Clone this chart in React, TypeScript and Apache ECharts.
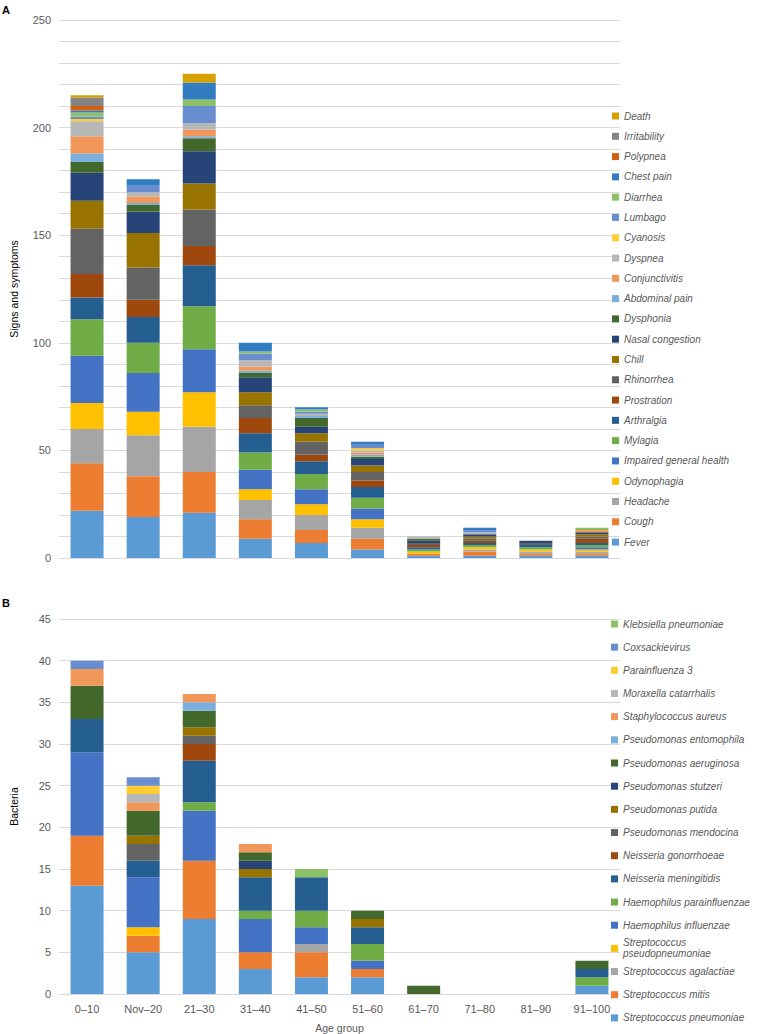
import React, { useEffect, useRef } from "react";
import * as echarts from "echarts";

const categories = ["0–10", "Nov–20", "21–30", "31–40", "41–50", "51–60", "61–70", "71–80", "81–90", "91–100"];

// Panel A: signs and symptoms (stack order bottom -> top)
const fever = [22, 19, 21, 9, 7, 4, 1, 1, 1, 1];
const cough = [22, 19, 19, 9, 6, 5, 1, 2, 1, 1];
const headache = [16, 19, 21, 9, 7, 5, 0, 1, 1, 1];
const odynophagia = [12, 11, 16, 5, 5, 4, 1, 1, 1, 1];
const impairedHealth = [22, 18, 20, 9, 7, 5, 0, 0, 0, 1];
const mylagia = [17, 14, 20, 8, 7, 5, 1, 1, 1, 1];
const arthralgia = [10, 12, 19, 9, 6, 5, 1, 1, 1, 1];
const prostration = [11, 8, 9, 7, 3, 3, 1, 1, 0, 2];
const rhinorrhea = [21, 15, 17, 6, 6, 4, 1, 1, 1, 1];
const chill = [13, 16, 12, 6, 4, 3, 0, 1, 0, 1];
const nasalCongestion = [13, 10, 15, 7, 3, 3, 1, 1, 1, 1];
const dysphonia = [5, 3, 6, 2, 4, 1, 1, 0, 0, 0];
const abdominalPain = [4, 1, 1, 1, 1, 1, 0, 0, 0, 0];
const conjunctivitis = [8, 3, 3, 2, 0, 1, 0, 0, 0, 1];
const dyspnea = [7, 2, 3, 3, 1, 1, 1, 1, 0, 0];
const cyanosis = [1, 0, 0, 0, 0, 1, 0, 0, 0, 0];
const lumbago = [1, 3, 8, 3, 1, 2, 0, 1, 0, 0];
const diarrhea = [2, 0, 3, 1, 1, 0, 0, 0, 0, 1];
const chestPain = [1, 3, 8, 4, 1, 1, 0, 1, 0, 0];
const polypnea = [2, 0, 0, 0, 0, 0, 0, 0, 0, 0];
const irritability = [4, 0, 0, 0, 0, 0, 0, 0, 0, 0];
const death = [1, 0, 4, 0, 0, 0, 0, 0, 0, 0];

const symptomNames = ["Fever", "Cough", "Headache", "Odynophagia", "Impaired general health", "Mylagia", "Arthralgia", "Prostration", "Rhinorrhea", "Chill", "Nasal congestion", "Dysphonia", "Abdominal pain", "Conjunctivitis", "Dyspnea", "Cyanosis", "Lumbago", "Diarrhea", "Chest pain", "Polypnea", "Irritability", "Death"];
const symptomValues = [fever, cough, headache, odynophagia, impairedHealth, mylagia, arthralgia, prostration, rhinorrhea, chill, nasalCongestion, dysphonia, abdominalPain, conjunctivitis, dyspnea, cyanosis, lumbago, diarrhea, chestPain, polypnea, irritability, death];

// Panel B: bacteria (stack order bottom -> top)
const sPneumoniae = [13, 5, 9, 3, 2, 2, 0, 0, 0, 1];
const sMitis = [6, 2, 7, 2, 3, 1, 0, 0, 0, 0];
const sAgalactiae = [0, 0, 0, 0, 1, 0, 0, 0, 0, 0];
const sPseudopneumoniae = [0, 1, 0, 0, 0, 0, 0, 0, 0, 0];
const hInfluenzae = [10, 6, 6, 4, 2, 1, 0, 0, 0, 0];
const hParainfluenzae = [0, 0, 1, 1, 2, 2, 0, 0, 0, 1];
const nMeningitidis = [4, 2, 5, 4, 4, 2, 0, 0, 0, 1];
const nGonorrhoeae = [0, 0, 2, 0, 0, 0, 0, 0, 0, 0];
const pMendocina = [0, 2, 1, 0, 0, 0, 0, 0, 0, 0];
const pPutida = [0, 1, 1, 1, 0, 1, 0, 0, 0, 0];
const pStutzeri = [0, 0, 0, 1, 0, 0, 0, 0, 0, 0];
const pAeruginosa = [4, 3, 2, 1, 0, 1, 1, 0, 0, 1];
const pEntomophila = [0, 0, 1, 0, 0, 0, 0, 0, 0, 0];
const sAureus = [2, 1, 1, 1, 0, 0, 0, 0, 0, 0];
const mCatarrhalis = [0, 1, 0, 0, 0, 0, 0, 0, 0, 0];
const parainfluenza3 = [0, 1, 0, 0, 0, 0, 0, 0, 0, 0];
const coxsackievirus = [1, 1, 0, 0, 0, 0, 0, 0, 0, 0];
const kPneumoniae = [0, 0, 0, 0, 1, 0, 0, 0, 0, 0];

const bacteriaNames = ["Streptococcus pneumoniae", "Streptococcus mitis", "Streptococcus agalactiae", "Streptococcus pseudopneumoniae", "Haemophilus influenzae", "Haemophilus parainfluenzae", "Neisseria meningitidis", "Neisseria gonorrhoeae", "Pseudomonas mendocina", "Pseudomonas putida", "Pseudomonas stutzeri", "Pseudomonas aeruginosa", "Pseudomonas entomophila", "Staphylococcus aureus", "Moraxella catarrhalis", "Parainfluenza 3", "Coxsackievirus", "Klebsiella pneumoniae"];
const bacteriaValues = [sPneumoniae, sMitis, sAgalactiae, sPseudopneumoniae, hInfluenzae, hParainfluenzae, nMeningitidis, nGonorrhoeae, pMendocina, pPutida, pStutzeri, pAeruginosa, pEntomophila, sAureus, mCatarrhalis, parainfluenza3, coxsackievirus, kPneumoniae];

const palette = ["#5B9BD5", "#ED7D31", "#A5A5A5", "#FFC000", "#4472C4", "#70AD47", "#255E91", "#9E480E", "#636363", "#997300", "#264478", "#43682B", "#7CAFDD", "#F1975A", "#B7B7B7", "#FFCD33", "#698ED0", "#8CC168", "#327DC2", "#D26012", "#848484", "#D5A000"];

const FONT = "Liberation Sans, Arial, sans-serif";
const TXT = "#595959";
const GRIDC = "#d9d9d9";

export default function App() {
  const ref = useRef<HTMLDivElement>(null);
  useEffect(() => {
    if (!ref.current) return;
    const chart = echarts.init(ref.current, null, { renderer: "svg" });

    const series: any[] = [];
    symptomNames.forEach((n, i) => {
      series.push({ name: n, type: "bar", stack: "a", xAxisIndex: 0, yAxisIndex: 0, data: symptomValues[i], itemStyle: { color: palette[i] }, barWidth: 33 });
    });
    bacteriaNames.forEach((n, i) => {
      series.push({ name: n, type: "bar", stack: "b", xAxisIndex: 1, yAxisIndex: 1, data: bacteriaValues[i], itemStyle: { color: palette[i] }, barWidth: 33 });
    });

    const legends: any[] = [];
    const legendBase = {
      orient: "vertical", padding: 0, itemWidth: 7, itemHeight: 7, icon: "rect", selectedMode: false,
      textStyle: { fontSize: 10, fontStyle: "italic", color: TXT, fontFamily: FONT, lineHeight: 12 },
    };
    // top legend: Death (top) -> Fever (bottom)
    const topOrder = symptomNames.slice().reverse();
    topOrder.forEach((n, k) => {
      const cy = 116 + k * 20.29;
      legends.push({ ...legendBase, left: 612, top: cy - 6, data: [n] });
    });
    const botOrder = bacteriaNames.slice().reverse();
    botOrder.forEach((n, k) => {
      const cy = 624 + k * 23.17;
      const two = n === "Streptococcus pseudopneumoniae";
      legends.push({
        ...legendBase, left: 611, top: two ? cy - 11 : cy - 6, data: [n],
        formatter: two ? () => "Streptococcus\npseudopneumoniae" : undefined,
        textStyle: { ...legendBase.textStyle, lineHeight: two ? 11 : 12 },
      });
    });

    chart.setOption({
      animation: false,
      textStyle: { fontFamily: FONT },
      grid: [
        { left: 45, width: 575, top: 20, height: 538 },
        { left: 45, width: 575, top: 619, height: 379 },
      ],
      legend: legends,
      xAxis: [
        { type: "category", gridIndex: 0, data: categories, axisLabel: { show: false }, axisTick: { show: false }, axisLine: { lineStyle: { color: GRIDC } } },
        {
          type: "category", gridIndex: 1, data: categories, axisTick: { show: false }, axisLine: { lineStyle: { color: GRIDC } },
          axisLabel: { color: TXT, fontSize: 11, fontFamily: FONT, margin: 9, interval: 0 },
          name: "Age group", nameLocation: "middle", nameGap: 28, nameTextStyle: { color: TXT, fontSize: 10.5, fontFamily: FONT },
        },
      ],
      yAxis: [
        {
          type: "value", gridIndex: 0, min: 0, max: 250, interval: 10,
          axisLabel: { color: TXT, fontSize: 11, fontFamily: FONT, formatter: (v: number) => (v % 50 === 0 ? String(v) : "") },
          splitLine: { lineStyle: { color: GRIDC } }, axisLine: { show: false }, axisTick: { show: false },
          name: "Signs and symptoms", nameLocation: "middle", nameGap: 40, nameRotate: 90,
          nameTextStyle: { color: "#000", fontSize: 10.5, fontFamily: FONT },
        },
        {
          type: "value", gridIndex: 1, min: 0, max: 45, interval: 5,
          axisLabel: { color: TXT, fontSize: 11, fontFamily: FONT },
          splitLine: { lineStyle: { color: GRIDC } }, axisLine: { show: false }, axisTick: { show: false },
          name: "Bacteria", nameLocation: "middle", nameGap: 40, nameRotate: 90,
          nameTextStyle: { color: "#000", fontSize: 10.5, fontFamily: FONT },
        },
      ],
      graphic: [
        { type: "text", left: 2, top: 4, style: { text: "A", font: "bold 11px Liberation Sans, Arial, sans-serif", fill: "#000" } },
        { type: "text", left: 2, top: 597, style: { text: "B", font: "bold 11px Liberation Sans, Arial, sans-serif", fill: "#000" } },
      ],
      series,
    });
    return () => chart.dispose();
  }, []);
  return <div ref={ref} style={{ position: "absolute", left: 0, top: 0, width: 774, height: 1034, background: "#fff" }} />;
}
